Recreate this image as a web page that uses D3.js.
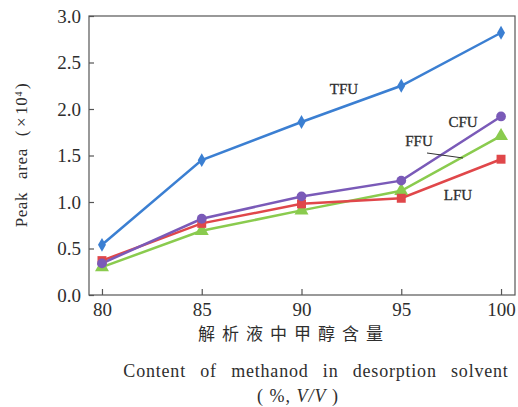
<!DOCTYPE html>
<html><head><meta charset="utf-8">
<script src="https://cdn.jsdelivr.net/npm/d3@7"></script>
<style>body{margin:0;background:#fff}</style>
</head><body>
<svg id="c" width="518" height="407"></svg>
<script>
const xValues = [80, 85, 90, 95, 100];
const TFU = [0.54, 1.45, 1.86, 2.25, 2.82];
const CFU = [0.34, 0.82, 1.06, 1.23, 1.92];
const FFU = [0.30, 0.69, 0.91, 1.12, 1.71];
const LFU = [0.37, 0.77, 0.98, 1.04, 1.46];
const yTicks = [0, 0.5, 1.0, 1.5, 2.0, 2.5, 3.0];
const seriesNames = ["TFU", "CFU", "FFU", "LFU"];
const seriesColors = ["#3b7fd2", "#7a5ab8", "#8acb4e", "#e0474a"];
const seriesSymbols = [d3.symbolDiamond, d3.symbolCircle, d3.symbolTriangle, d3.symbolSquare];

const svg = d3.select("#c");
const L = 89, R = 515, T = 16, B = 295;
const x = d3.scaleLinear().domain([79.35, 100.7]).range([L, R]);
const y = d3.scaleLinear().domain([0, 3.0]).range([B, T]);
const textCol = "#2e2e2e";
const serif = "'Liberation Serif','Times New Roman',serif";

// frame
svg.append("rect").attr("x", L).attr("y", T).attr("width", R - L).attr("height", B - T)
  .attr("fill", "none").attr("stroke", "#555").attr("stroke-width", 1.2);

// axes
const yAxis = d3.axisLeft(y).tickValues(yTicks).tickSize(-5).tickPadding(8).tickFormat(d3.format(".1f"));
const gy = svg.append("g").attr("transform", `translate(${L},0)`).call(yAxis);
const xAxis = d3.axisBottom(x).tickValues(xValues).tickSize(-6).tickPadding(7);
const gx = svg.append("g").attr("transform", `translate(0,${B})`).call(xAxis);
[gx, gy].forEach(g => {
  g.select(".domain").remove();
  g.selectAll("line").attr("stroke", "#555").attr("stroke-width", 1.2);
  g.selectAll("text").attr("fill", textCol).style("font-family", serif).style("font-size", "19px");
});
gx.selectAll("text").attr("dy", "0.72em");

// series
const all = [TFU, CFU, FFU, LFU];
const line = d3.line().x((d, i) => x(xValues[i])).y(d => y(d));
const order = [2, 3, 1, 0];
order.forEach(k => {
  svg.append("path").datum(all[k]).attr("d", line).attr("fill", "none")
    .attr("stroke", seriesColors[k]).attr("stroke-width", 2.5);
});
const sizes = [55, 75, 85, 80];
order.forEach(k => {
  svg.selectAll(null).data(all[k]).enter().append("path")
    .attr("transform", (d, i) => `translate(${x(xValues[i])},${y(d)})`)
    .attr("d", d3.symbol().type(seriesSymbols[k]).size(sizes[k]))
    .attr("fill", seriesColors[k]);
});

// series labels
const lab = (t, px, py) => svg.append("text").attr("x", px).attr("y", py).text(t)
  .attr("fill", textCol).attr("stroke", textCol).attr("stroke-width", 0.3)
  .style("font-family", serif).style("font-size", "15px").attr("text-anchor", "middle").attr("dominant-baseline", "middle");
lab("TFU", 344, 91);
lab("CFU", 463, 124);
lab("FFU", 419, 143);
lab("LFU", 458, 197);
svg.append("line").attr("x1", 427).attr("y1", 153).attr("x2", 463).attr("y2", 158)
  .attr("stroke", "#333").attr("stroke-width", 1);

// y title
const yt = svg.append("text").attr("transform", "translate(27,155) rotate(-90)")
  .attr("text-anchor", "middle").attr("fill", textCol)
  .style("font-family", serif).style("font-size", "17px").style("letter-spacing", "0.6px");
yt.append("tspan").text("Peak");
yt.append("tspan").attr("dx", 13).text("area");
yt.append("tspan").attr("dx", 12).text("(");
yt.append("tspan").attr("dx", 3).text("×");
yt.append("tspan").attr("dx", 2).text("10");
yt.append("tspan").text("4").attr("baseline-shift", "super").style("font-size", "10px");
yt.append("tspan").attr("dx", 2).text(")");

// x titles
svg.append("text").attr("x", 294).attr("y", 340).attr("text-anchor", "middle")
  .attr("fill", textCol).style("font-family", "'Noto Sans CJK SC',sans-serif").style("font-size", "17px")
  .style("letter-spacing", "7px").text("解析液中甲醇含量");
svg.append("text").attr("x", 316).attr("y", 377).attr("text-anchor", "middle")
  .attr("fill", textCol).style("font-family", serif).style("font-size", "18px")
  .style("letter-spacing", "0.8px").style("word-spacing", "9px").text("Content of methanod in desorption solvent");
const t3 = svg.append("text").attr("x", 298).attr("y", 402).attr("text-anchor", "middle")
  .attr("fill", textCol).style("font-family", serif).style("font-size", "18px").style("letter-spacing", "1px");
t3.append("tspan").text("( %, ");
t3.append("tspan").text("V/V").style("font-style", "italic");
t3.append("tspan").text(" )");
</script>
</body></html>
